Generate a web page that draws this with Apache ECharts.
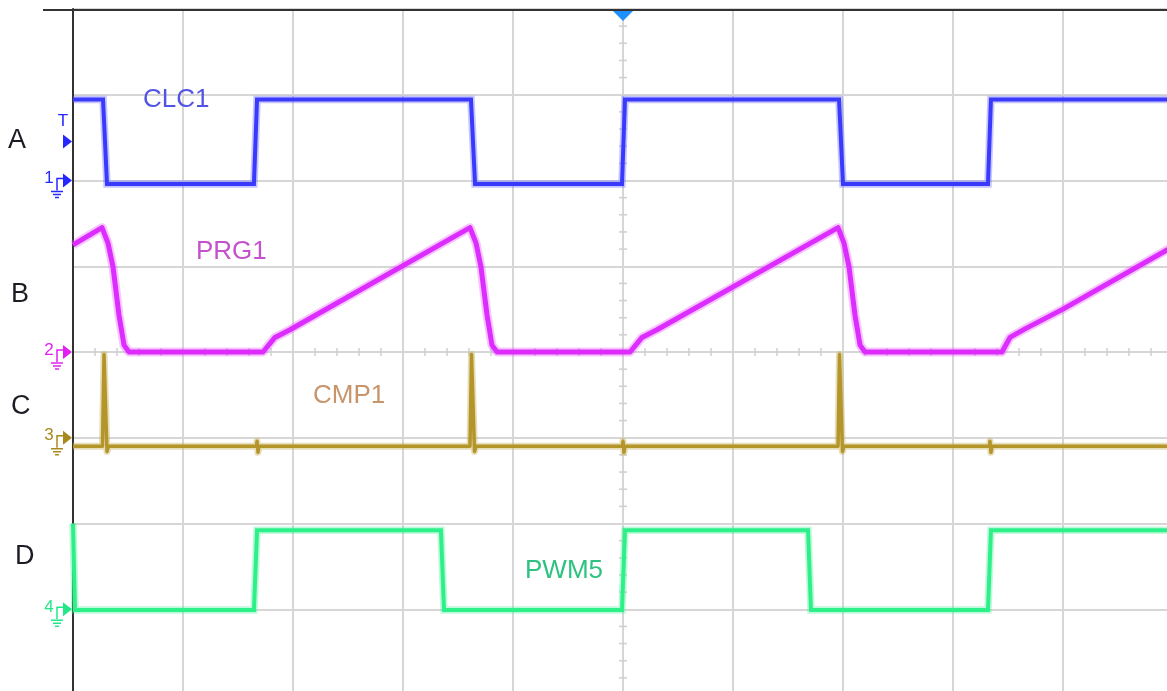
<!DOCTYPE html>
<html>
<head>
<meta charset="utf-8">
<script src="https://cdn.jsdelivr.net/npm/echarts@6/dist/echarts.min.js"></script>
<style>html,body{margin:0;padding:0;background:#fff;overflow:hidden}#c{width:1173px;height:696px}</style>
</head>
<body>
<div id="c"></div>
<script>
// ---- Data (time in horizontal divisions, level in vertical divisions relative to each channel's ground marker) ----
const channelNames = ['CLC1', 'PRG1', 'CMP1', 'PWM5'];
const channelNumbers = ['1', '2', '3', '4'];
const rowLetters = ['A', 'B', 'C', 'D'];
const channelOffsets = [6, 4, 3, 1];          // ground marker position (divisions from bottom)
const triggerLevel = 0.455;                    // CH1 trigger level (divisions above CH1 ground)
const triggerTime = 5;                         // trigger position (divisions)

const clcTime  = [0, 0.273, 0.309, 1.645, 1.673, 3.618, 3.655, 4.991, 5.018, 6.964, 7.0, 8.318, 8.345, 10];
const clcLevel = [0.945, 0.945, -0.04, -0.04, 0.945, 0.945, -0.04, -0.04, 0.945, 0.945, -0.04, -0.04, 0.945, 0.945];

const prgTime  = [0, 0.264, 0.318, 0.364, 0.418, 0.464, 0.509, 1.727, 1.836, 1.973,
                  3.609, 3.664, 3.709, 3.764, 3.809, 3.855, 5.064, 5.173, 5.309,
                  6.955, 7.009, 7.055, 7.109, 7.155, 7.2, 8.445, 8.518, 8.655, 9.0, 9.945, 10];
const prgLevel = [1.25, 1.45, 1.27, 0.99, 0.43, 0.08, 0, 0, 0.17, 0.26,
                  1.45, 1.27, 0.99, 0.43, 0.08, 0, 0, 0.17, 0.26,
                  1.45, 1.27, 0.99, 0.43, 0.08, 0, 0, 0.17, 0.27, 0.50, 1.19, 1.22];

const cmpTime  = [0, 0.268, 0.282, 0.295, 0.309, 0.323, 1.668, 1.673, 1.682, 1.691,
                  3.609, 3.623, 3.636, 3.65, 3.664, 4.995, 5.0, 5.009, 5.018,
                  6.955, 6.968, 6.982, 6.995, 7.009, 8.332, 8.336, 8.345, 8.355, 10];
const cmpLevel = [-0.1, -0.1, 0.97, 0.95, -0.16, -0.1, -0.1, -0.04, -0.17, -0.1,
                  -0.1, 0.97, 0.95, -0.16, -0.1, -0.1, -0.04, -0.17, -0.1,
                  -0.1, 0.97, 0.95, -0.16, -0.1, -0.1, -0.04, -0.17, -0.1, -0.1];

const pwmTime  = [0, 0.018, 1.645, 1.673, 3.345, 3.373, 4.991, 5.018, 6.682, 6.709, 8.318, 8.345, 10];
const pwmLevel = [1.0, -0.01, -0.01, 0.92, 0.92, -0.01, -0.01, 0.92, 0.92, -0.01, -0.01, 0.92, 0.92];

// ---- Styling ----
const traceColors  = ['#3a3aff', '#dc2cff', '#b3952a', '#2ef08a'];
const haloColors   = ['rgba(90,90,255,0.35)', 'rgba(230,90,255,0.35)', 'rgba(205,180,100,0.45)', 'rgba(70,240,150,0.35)'];
const coreWidths   = [4, 5, 3.5, 4];
const haloWidths   = [7.5, 9, 7, 7.5];
const joins        = ['miter', 'round', 'round', 'miter'];
const markerColors = ['#2626ff', '#e020f0', '#a88a1c', '#22e88a'];
const labelColors  = ['#5353e6', '#c452cc', '#c8946a', '#2dc27f'];
const FONT = '"Liberation Sans", Arial, sans-serif';

const traces = [[clcTime, clcLevel], [prgTime, prgLevel], [cmpTime, cmpLevel], [pwmTime, pwmLevel]];

const series = [];
traces.forEach(([t, v], i) => {
  const data = t.map((x, k) => [x, channelOffsets[i] + v[k]]);
  series.push({
    type: 'line', data, showSymbol: false, silent: true, z: 2 + i,
    lineStyle: { color: haloColors[i], width: haloWidths[i], join: joins[i] }
  });
  series.push({
    type: 'line', data, showSymbol: false, silent: true, z: 3 + i,
    lineStyle: { color: traceColors[i], width: coreWidths[i], join: joins[i] }
  });
});

// minor ticks on the centre graticule lines
const tickData = [];
for (let k = 1; k < 50; k++) { if (k % 5) tickData.push([k / 5, 4, 0]); }
for (let k = 1; k < 40; k++) { if (k % 5) tickData.push([5, k / 5, 1]); }
series.push({
  type: 'custom', silent: true, z: 1, data: tickData,
  renderItem(params, api) {
    const p = api.coord([api.value(0), api.value(1)]);
    const vert = api.value(2) === 0;
    return {
      type: 'line',
      shape: vert ? { x1: p[0], y1: p[1] - 4, x2: p[0], y2: p[1] + 4 } : { x1: p[0] - 4, y1: p[1], x2: p[0] + 4, y2: p[1] },
      style: { stroke: '#cfcfcf', lineWidth: 1.5 }
    };
  }
});

// channel ground markers, trigger level marker and trigger position marker
const markerData = channelOffsets.map((o, i) => [0, o, i]);
markerData.push([0, channelOffsets[0] + triggerLevel, 10]);
markerData.push([triggerTime, 8, 11]);
series.push({
  type: 'custom', silent: true, z: 20, clip: false, data: markerData,
  renderItem(params, api) {
    const id = api.value(2);
    const p = api.coord([api.value(0), api.value(1)]);
    const x = p[0], y = p[1];
    if (id === 11) {
      return { type: 'polygon', shape: { points: [[x - 11, y + 1], [x + 11, y + 1], [x, y + 12]] }, style: { fill: '#1e8fff' } };
    }
    if (id === 10) {
      const c = markerColors[0];
      return { type: 'group', children: [
        { type: 'polygon', shape: { points: [[x - 10, y - 7], [x - 1, y], [x - 10, y + 7]] }, style: { fill: c } },
        { type: 'text', x: x - 10, y: y - 20, style: { text: 'T', fill: c, font: '17px ' + FONT, align: 'center', verticalAlign: 'middle' } }
      ] };
    }
    const c = markerColors[id];
    return { type: 'group', children: [
      { type: 'polygon', shape: { points: [[x - 10, y - 7], [x - 1, y], [x - 10, y + 7]] }, style: { fill: c } },
      { type: 'text', x: x - 24, y: y - 2, style: { text: channelNumbers[id], fill: c, font: '17px ' + FONT, align: 'center', verticalAlign: 'middle' } },
      { type: 'polyline', shape: { points: [[x - 16, y + 10], [x - 16, y - 2], [x - 10, y - 2]] }, style: { stroke: c, lineWidth: 1.5, fill: null } },
      { type: 'line', shape: { x1: x - 22, y1: y + 11, x2: x - 10, y2: y + 11 }, style: { stroke: c, lineWidth: 1.5 } },
      { type: 'line', shape: { x1: x - 20, y1: y + 14, x2: x - 12, y2: y + 14 }, style: { stroke: c, lineWidth: 1.5 } },
      { type: 'line', shape: { x1: x - 18, y1: y + 17, x2: x - 14, y2: y + 17 }, style: { stroke: c, lineWidth: 1.5 } }
    ] };
  }
});

const labelPos = [[143, 100], [196, 252], [313, 396], [525, 571]];
const letterPos = [[8, 141], [11, 295], [11, 407], [15, 557]];
const graphic = [
  { type: 'line', z: 50, shape: { x1: 43, y1: 10, x2: 1173, y2: 10 }, style: { stroke: '#333', lineWidth: 2 } }
];
channelNames.forEach((n, i) => {
  graphic.push({ type: 'text', z: 40, x: labelPos[i][0], y: labelPos[i][1],
    style: { text: n, fill: labelColors[i], font: '26px ' + FONT, verticalAlign: 'middle' } });
  graphic.push({ type: 'text', z: 40, x: letterPos[i][0], y: letterPos[i][1],
    style: { text: rowLetters[i], fill: '#1c1c24', font: '27px ' + FONT, verticalAlign: 'middle' } });
});

const chart = echarts.init(document.getElementById('c'), null, { renderer: 'canvas' });
chart.setOption({
  animation: false,
  backgroundColor: '#ffffff',
  grid: { left: 73, top: 9, width: 1100, height: 686, containLabel: false },
  xAxis: {
    type: 'value', min: 0, max: 10, interval: 1,
    axisLine: { show: false }, axisTick: { show: false }, axisLabel: { show: false },
    splitLine: { show: true, lineStyle: { color: '#d6d6d6', width: 2 } }
  },
  yAxis: {
    type: 'value', min: 0, max: 8, interval: 1,
    axisLine: { show: true, lineStyle: { color: '#333', width: 2 } },
    axisTick: { show: false }, axisLabel: { show: false },
    splitLine: { show: true, lineStyle: { color: '#d6d6d6', width: 2 } }
  },
  graphic,
  series
});
</script>
</body>
</html>
